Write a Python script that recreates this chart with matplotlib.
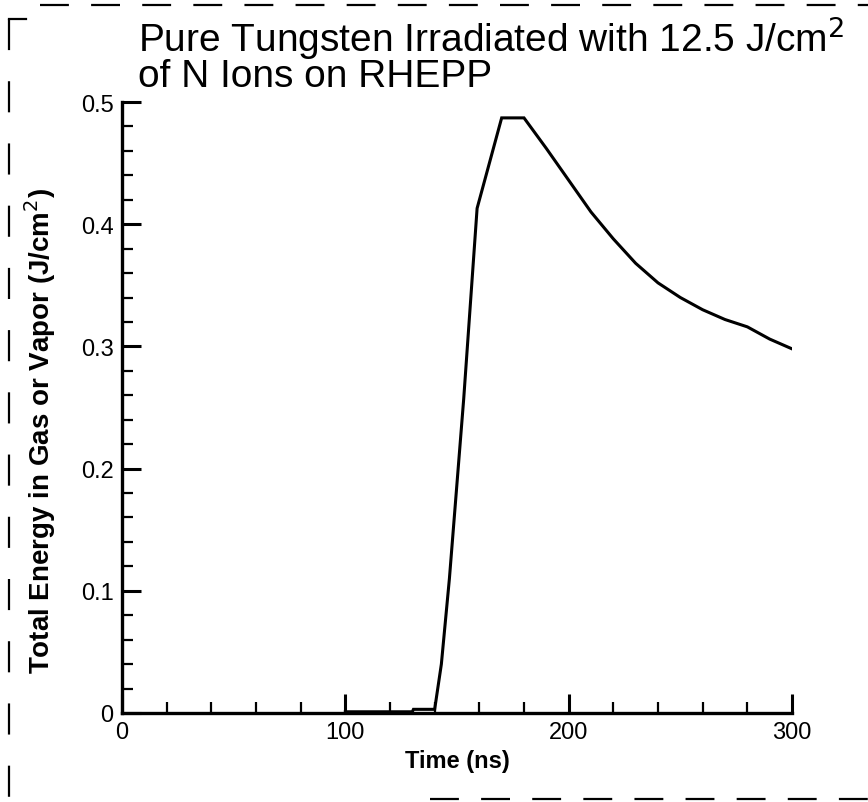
import matplotlib
matplotlib.use("Agg")
import matplotlib.pyplot as plt
from matplotlib.lines import Line2D
from matplotlib.ticker import MultipleLocator

plt.rcParams['font.family'] = ['Liberation Sans', 'DejaVu Sans']

# values
time_ns = [100, 130, 130.5, 140, 143, 146.6, 153, 159, 170, 180, 190, 200, 210,
           220, 230, 240, 250, 260, 270, 280, 290, 300]
energy = [0.001, 0.001, 0.003, 0.003, 0.04, 0.11, 0.257, 0.413, 0.487, 0.487,
          0.462, 0.436, 0.410, 0.388, 0.368, 0.352, 0.340, 0.330, 0.322, 0.316,
          0.306, 0.298]
y_ticks = [0, 0.1, 0.2, 0.3, 0.4, 0.5]
y_tick_labels = ["0", "0.1", "0.2", "0.3", "0.4", "0.5"]

fig = plt.figure(figsize=(8.68, 8.03), dpi=100)
ax = fig.add_axes([122 / 868, 1 - 714 / 803, (792 - 122) / 868, (714 - 103) / 803])

ax.plot(time_ns, energy, color="black", lw=2.2, solid_joinstyle="miter")

ax.set_xlim(0, 300)
ax.set_ylim(0, 0.5)
ax.xaxis.set_major_locator(MultipleLocator(100))
ax.xaxis.set_minor_locator(MultipleLocator(20))
ax.set_yticks(y_ticks)
ax.set_yticklabels(y_tick_labels)
ax.yaxis.set_minor_locator(MultipleLocator(0.02))

for s in ["top", "right"]:
    ax.spines[s].set_visible(False)
for s in ["left", "bottom"]:
    ax.spines[s].set_linewidth(2.4)

ax.tick_params(which="major", direction="in", length=14, width=2.2, labelsize=17, pad=6)
ax.tick_params(which="minor", direction="in", length=8, width=1.6)

ax.set_xlabel("Time (ns)", fontsize=17, fontweight="bold", labelpad=4)
ax.set_ylabel("Total Energy in Gas or Vapor (J/cm$^2$)", fontsize=20, fontweight="bold")
ax.yaxis.set_label_coords(-0.095, 0.463)

fig.text(138 / 868, 1 - 14 / 803,
         "Pure Tungsten Irradiated with 12.5 J/cm$^2$\nof N Ions on RHEPP",
         fontsize=28, ha="left", va="top", linespacing=0.92)

# dashed border left over from the scan
fig.add_artist(Line2D([40 / 868, 1], [1 - 6 / 803] * 2, color="black", lw=1.6,
                      dashes=(13, 10), transform=fig.transFigure))
fig.add_artist(Line2D([9 / 868] * 2, [1 - 20 / 803, 0], color="black", lw=1.6,
                      dashes=(14, 14), transform=fig.transFigure))
fig.add_artist(Line2D([9 / 868, 26 / 868], [1 - 20 / 803] * 2, color="black", lw=1.6,
                      transform=fig.transFigure))
fig.add_artist(Line2D([430 / 868, 1], [3 / 803] * 2, color="black", lw=1.6,
                      dashes=(13, 10), transform=fig.transFigure))

fig.savefig("out.png", dpi=100)
